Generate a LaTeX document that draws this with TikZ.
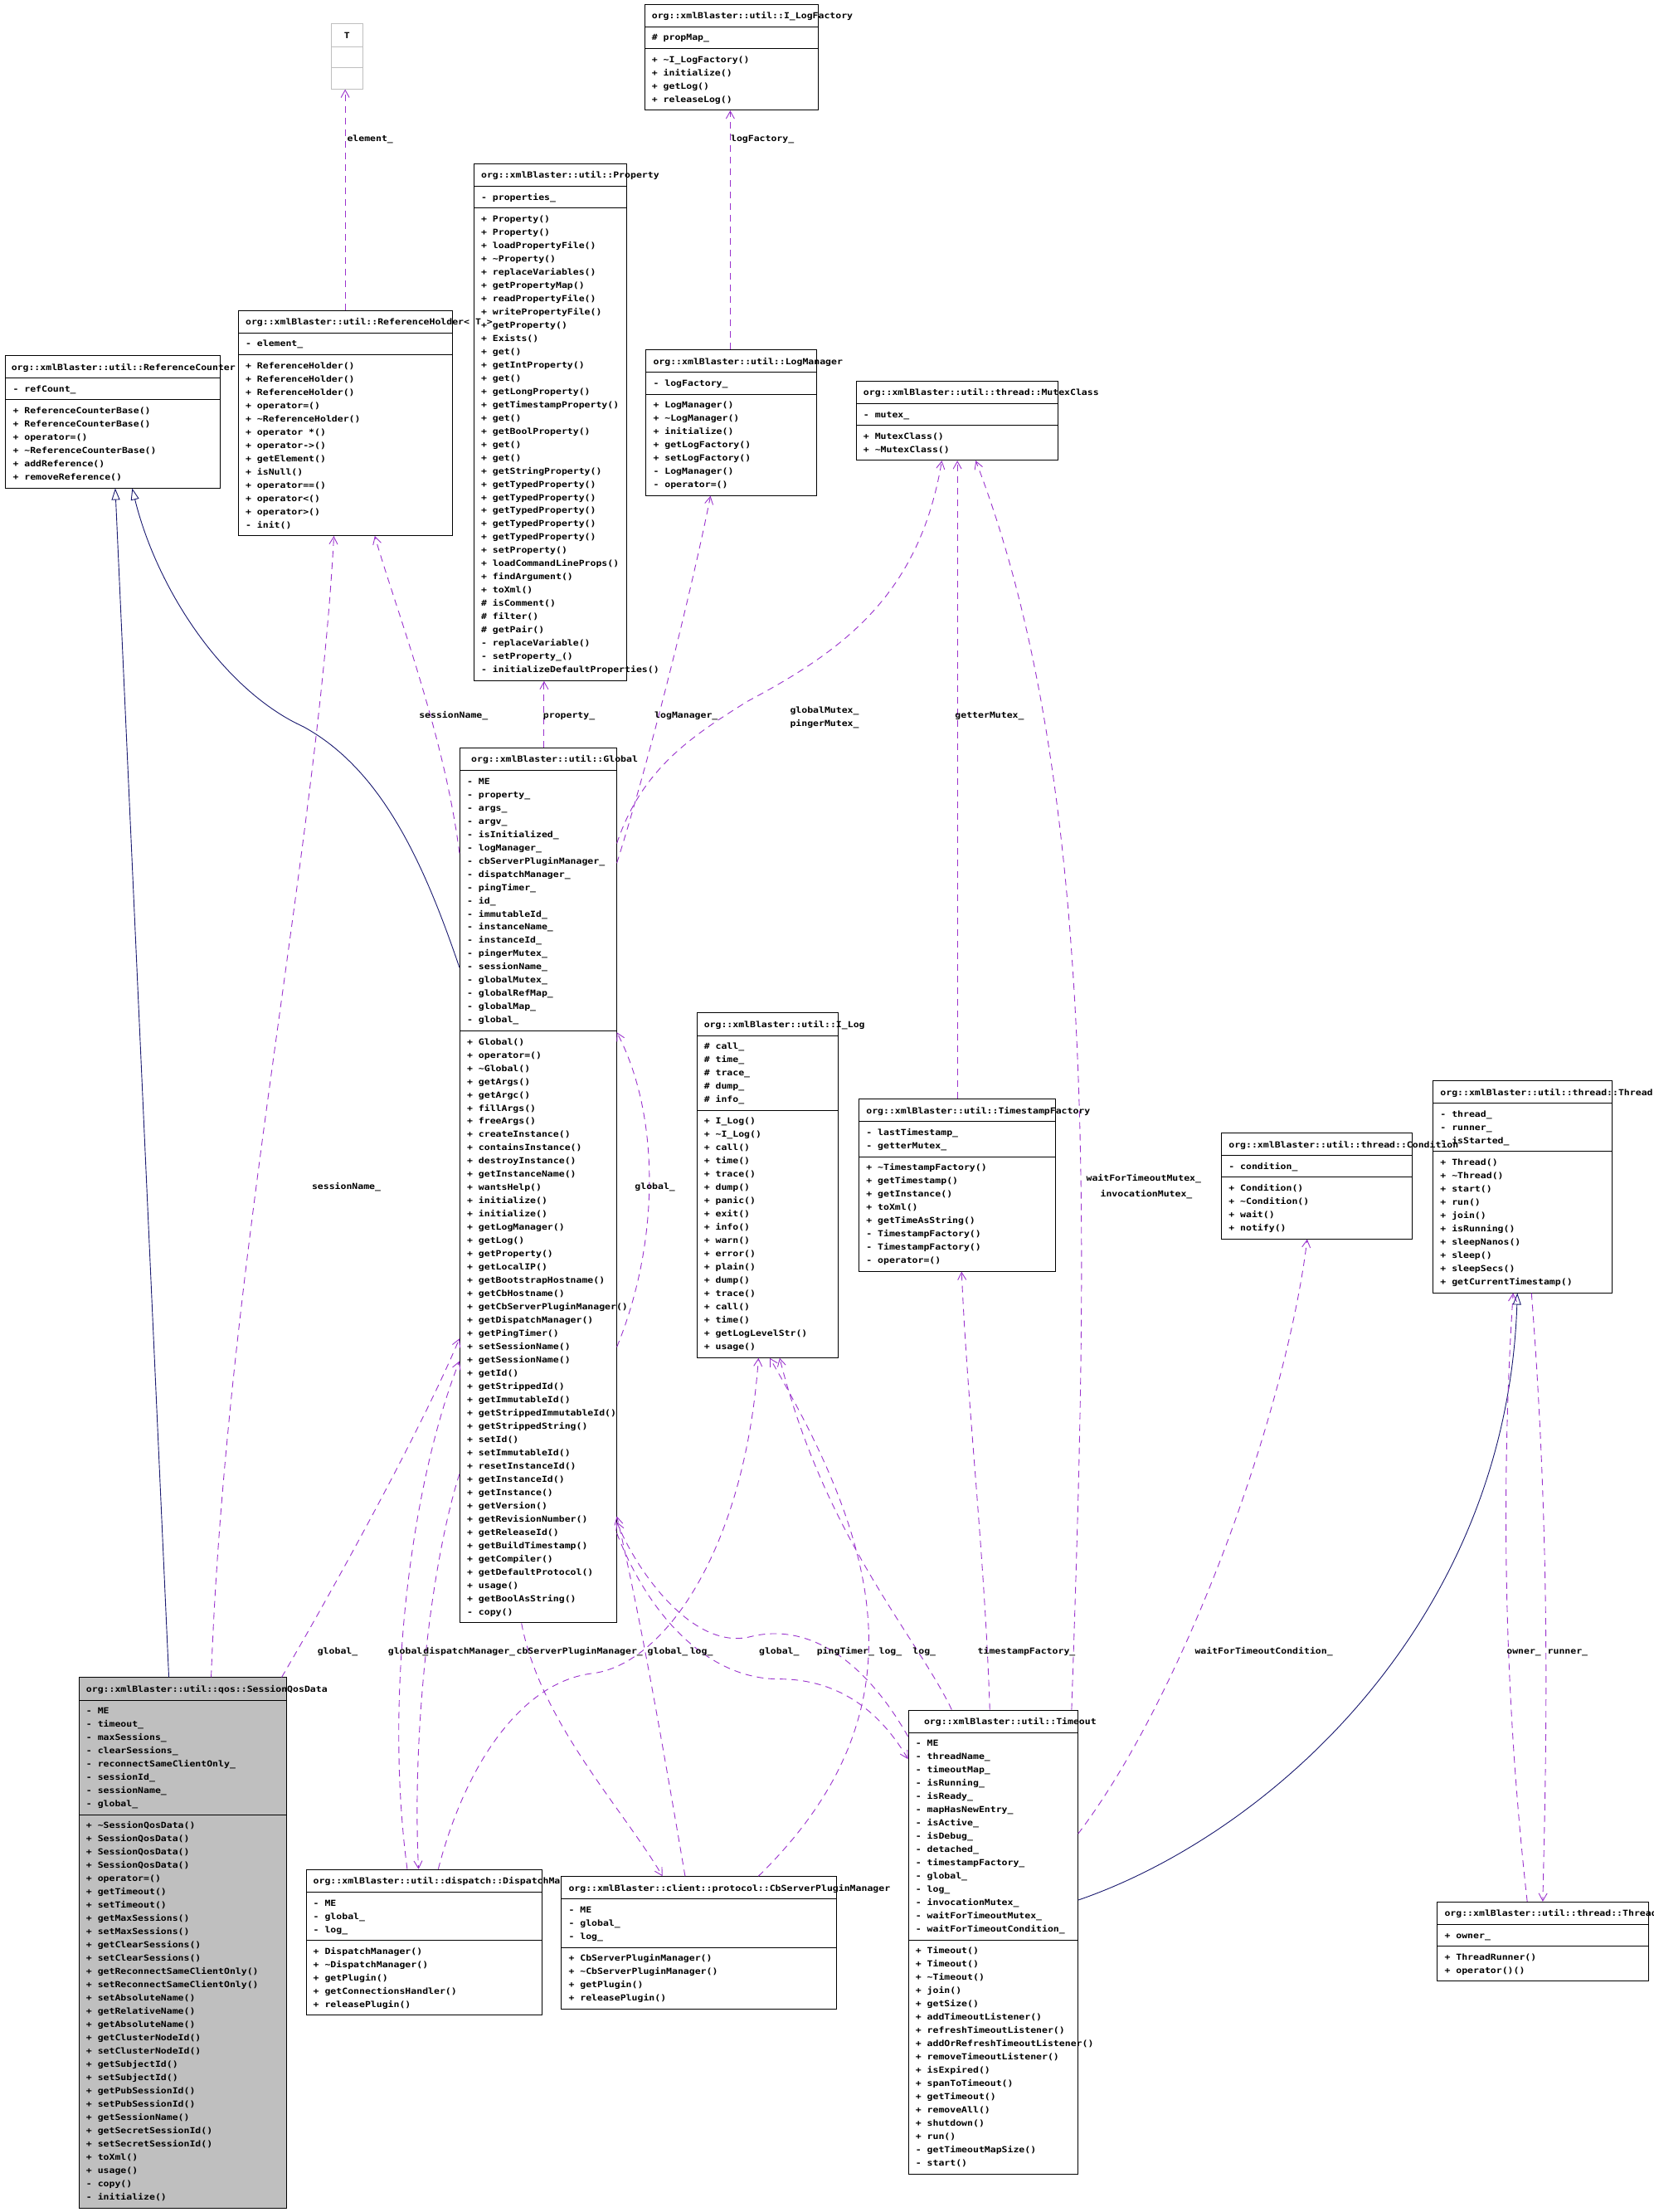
\documentclass[tikz,border=0pt]{standalone}
\usepackage{fontspec}
\usetikzlibrary{arrows.meta,fit,calc}
\newfontfamily\umlfont{DejaVu Sans Mono}[FakeStretch=1.15]
\definecolor{edgepurple}{HTML}{9A32CD}
\definecolor{edgenavy}{HTML}{191970}
\definecolor{boxgray}{HTML}{BFBFBF}
\tikzset{
 umlbox/.style={draw=black, line width=1pt, inner sep=0pt, rectangle},
 umltxt/.style={anchor=base west, inner sep=0pt, font=\fontsize{10}{12}\umlfont\bfseries},
 umllbl/.style={anchor=base west, inner sep=0pt, font=\fontsize{10}{12}\umlfont\bfseries},
 usage/.style={draw=edgepurple, line width=0.9pt, dash pattern=on 8pt off 6pt, -{Straight Barb[length=9pt,width=10pt,line width=0.9pt]}},
 inherit/.style={draw=edgenavy, line width=0.9pt, -{Triangle[length=14pt,width=10pt,fill=white]}},
}
\def\umlhx{5}
\newcommand\umlclass[8]{%
 \pgfmathsetmacro\umlya{#4+16}%
 \xdef\umlnA{0}\foreach \q [count=\k] in {#7} {\xdef\umlnA{\k}}%
 \xdef\umlnM{0}\foreach \q [count=\k] in {#8} {\xdef\umlnM{\k}}%
 \pgfmathsetmacro\umlyb{\umlya+\umlnA*9.4+6}%
 \pgfmathsetmacro\umlyc{\umlyb+\umlnM*9.4+6}%
 \node[umlbox, fill=#2, fit={(#3,#4) (#5,\umlyc)}] (#1) {};
 \draw[line width=1pt] (#3,\umlya) -- (#5,\umlya) (#3,\umlyb) -- (#5,\umlyb);
 \node[umltxt] (#1-h) at ({#3+\umlhx},{#4+10.3}) {#6};
 \foreach \q [count=\k] in {#7} {\node[umltxt] (#1-a\k) at ({#3+5},{\umlya+9.8+(\k-1)*9.4}) {\q};}
 \foreach \q [count=\k] in {#8} {\node[umltxt] (#1-m\k) at ({#3+5},{\umlyb+9.8+(\k-1)*9.4}) {\q};}
}
\begin{document}
\begin{tikzpicture}[x=1.70051pt, y=-1.70051pt]
\useasboundingbox[fill=white] (0,0) rectangle (1172,1567.76);

% ---------- boxes ----------
\umlclass{property}{white}{336}{116}{444}{org::xmlBlaster::util::Property}{- properties\_}{+ Property(), + Property(), + loadPropertyFile(), + \textasciitilde Property(), + replaceVariables(), + getPropertyMap(), + readPropertyFile(), + writePropertyFile(), + getProperty(), + Exists(), + get(), + getIntProperty(), + get(), + getLongProperty(), + getTimestampProperty(), + get(), + getBoolProperty(), + get(), + get(), + getStringProperty(), + getTypedProperty(), + getTypedProperty(), + getTypedProperty(), + getTypedProperty(), + getTypedProperty(), + setProperty(), + loadCommandLineProps(), + findArgument(), + toXml(), \# isComment(), \# filter(), \# getPair(), - replaceVariable(), - setProperty\_(), - initializeDefaultProperties()}

\def\umlhx{4}
\umlclass{rcb}{white}{4}{252}{156}{org::xmlBlaster::util::ReferenceCounter}{- refCount\_}{+ ReferenceCounterBase(), + ReferenceCounterBase(), + operator=(), + \textasciitilde ReferenceCounterBase(), + addReference(), + removeReference()}
\def\umlhx{5}

\umlclass{rh}{white}{169}{220}{321}{org::xmlBlaster::util::ReferenceHolder< T >}{- element\_}{+ ReferenceHolder(), + ReferenceHolder(), + ReferenceHolder(), + operator=(), + \textasciitilde ReferenceHolder(), + operator *(), + operator->(), + getElement(), + isNull(), + operator==(), + operator<(), + operator>(), - init()}

\umlclass{ilf}{white}{457}{3}{580}{org::xmlBlaster::util::I\_LogFactory}{\# propMap\_}{+ \textasciitilde I\_LogFactory(), + initialize(), + getLog(), + releaseLog()}

% T template parameter box
\node[draw=boxgray, line width=1pt, fill=white, inner sep=0pt, fit={(235,17) (257,63)}] (tbox) {};
\draw[draw=boxgray, line width=1pt] (235,33) -- (257,33) (235,48) -- (257,48);
\node[umltxt, anchor=base] (tbox-h) at (246,27.3) {T};

\umlclass{logm}{white}{458}{248}{579}{org::xmlBlaster::util::LogManager}{- logFactory\_}{+ LogManager(), + \textasciitilde LogManager(), + initialize(), + getLogFactory(), + setLogFactory(), - LogManager(), - operator=()}

\umlclass{mutex}{white}{607}{270}{750}{org::xmlBlaster::util::thread::MutexClass}{- mutex\_}{+ MutexClass(), + \textasciitilde MutexClass()}

\def\umlhx{8}
\umlclass{global}{white}{326}{530}{437}{org::xmlBlaster::util::Global}{- ME, - property\_, - args\_, - argv\_, - isInitialized\_, - logManager\_, - cbServerPluginManager\_, - dispatchManager\_, - pingTimer\_, - id\_, - immutableId\_, - instanceName\_, - instanceId\_, - pingerMutex\_, - sessionName\_, - globalMutex\_, - globalRefMap\_, - globalMap\_, - global\_}{+ Global(), + operator=(), + \textasciitilde Global(), + getArgs(), + getArgc(), + fillArgs(), + freeArgs(), + createInstance(), + containsInstance(), + destroyInstance(), + getInstanceName(), + wantsHelp(), + initialize(), + initialize(), + getLogManager(), + getLog(), + getProperty(), + getLocalIP(), + getBootstrapHostname(), + getCbHostname(), + getCbServerPluginManager(), + getDispatchManager(), + getPingTimer(), + setSessionName(), + getSessionName(), + getId(), + getStrippedId(), + getImmutableId(), + getStrippedImmutableId(), + getStrippedString(), + setId(), + setImmutableId(), + resetInstanceId(), + getInstanceId(), + getInstance(), + getVersion(), + getRevisionNumber(), + getReleaseId(), + getBuildTimestamp(), + getCompiler(), + getDefaultProtocol(), + usage(), + getBoolAsString(), - copy()}
\def\umlhx{5}

\umlclass{ilog}{white}{494}{718}{594}{org::xmlBlaster::util::I\_Log}{\# call\_, \# time\_, \# trace\_, \# dump\_, \# info\_}{+ I\_Log(), + \textasciitilde I\_Log(), + call(), + time(), + trace(), + dump(), + panic(), + exit(), + info(), + warn(), + error(), + plain(), + dump(), + trace(), + call(), + time(), + getLogLevelStr(), + usage()}

\umlclass{tsf}{white}{609}{779}{748}{org::xmlBlaster::util::TimestampFactory}{- lastTimestamp\_, - getterMutex\_}{+ \textasciitilde TimestampFactory(), + getTimestamp(), + getInstance(), + toXml(), + getTimeAsString(), - TimestampFactory(), - TimestampFactory(), - operator=()}

\umlclass{thread}{white}{1016}{766}{1143}{org::xmlBlaster::util::thread::Thread}{- thread\_, - runner\_, - isStarted\_}{+ Thread(), + \textasciitilde Thread(), + start(), + run(), + join(), + isRunning(), + sleepNanos(), + sleep(), + sleepSecs(), + getCurrentTimestamp()}

\umlclass{cond}{white}{866}{803}{1001}{org::xmlBlaster::util::thread::Condition}{- condition\_}{+ Condition(), + \textasciitilde Condition(), + wait(), + notify()}

\umlclass{sqd}{boxgray}{56}{1189}{203}{org::xmlBlaster::util::qos::SessionQosData}{- ME, - timeout\_, - maxSessions\_, - clearSessions\_, - reconnectSameClientOnly\_, - sessionId\_, - sessionName\_, - global\_}{+ \textasciitilde SessionQosData(), + SessionQosData(), + SessionQosData(), + SessionQosData(), + operator=(), + getTimeout(), + setTimeout(), + getMaxSessions(), + setMaxSessions(), + getClearSessions(), + setClearSessions(), + getReconnectSameClientOnly(), + setReconnectSameClientOnly(), + setAbsoluteName(), + getRelativeName(), + getAbsoluteName(), + getClusterNodeId(), + setClusterNodeId(), + getSubjectId(), + setSubjectId(), + getPubSessionId(), + setPubSessionId(), + getSessionName(), + getSecretSessionId(), + setSecretSessionId(), + toXml(), + usage(), - copy(), - initialize()}

\umlclass{disp}{white}{217}{1325}{384}{org::xmlBlaster::util::dispatch::DispatchManager}{- ME, - global\_, - log\_}{+ DispatchManager(), + \textasciitilde DispatchManager(), + getPlugin(), + getConnectionsHandler(), + releasePlugin()}

\umlclass{cbspm}{white}{398}{1330}{593}{org::xmlBlaster::client::protocol::CbServerPluginManager}{- ME, - global\_, - log\_}{+ CbServerPluginManager(), + \textasciitilde CbServerPluginManager(), + getPlugin(), + releasePlugin()}

\def\umlhx{11}
\umlclass{timeout}{white}{644}{1212}{764}{org::xmlBlaster::util::Timeout}{- ME, - threadName\_, - timeoutMap\_, - isRunning\_, - isReady\_, - mapHasNewEntry\_, - isActive\_, - isDebug\_, - detached\_, - timestampFactory\_, - global\_, - log\_, - invocationMutex\_, - waitForTimeoutMutex\_, - waitForTimeoutCondition\_}{+ Timeout(), + Timeout(), + \textasciitilde Timeout(), + join(), + getSize(), + addTimeoutListener(), + refreshTimeoutListener(), + addOrRefreshTimeoutListener(), + removeTimeoutListener(), + isExpired(), + spanToTimeout(), + getTimeout(), + removeAll(), + shutdown(), + run(), - getTimeoutMapSize(), - start()}
\def\umlhx{5}

\umlclass{trun}{white}{1019}{1348}{1169}{org::xmlBlaster::util::thread::ThreadRunner}{+ owner\_}{+ ThreadRunner(), + operator()()}

% ---------- inheritance ----------
\draw[inherit] ($(sqd.north west)+(64,0)$) -- ($(rcb.south west)+(78,0)$);
\draw[inherit] ($(global.north west)+(0,156)$) .. controls (300,610) and (270,545) .. (215,515) .. controls (160,490) and (112,420) .. ($(rcb.south west)+(90,0)$);
\draw[inherit] ($(timeout.north east)+(0,135)$) .. controls (900,1300) and (1068,1150) .. ($(thread.south west)+(60,0)$);

% ---------- usage ----------
\draw[usage] ($(rh.north west)+(76,0)$) -- ($(tbox.south west)+(10,0)$);
\draw[usage] ($(logm.north west)+(60,0)$) -- ($(ilf.south west)+(61,0)$);
\draw[usage] ($(global.north west)+(60,0)$) -- ($(property.south west)+(50,0)$);
\draw[usage] ($(global.north west)+(0,75)$) .. controls (315,520) and (280,430) .. ($(rh.south west)+(97,0)$);
\draw[usage] ($(sqd.north west)+(94,0)$) .. controls (160,900) and (225,600) .. ($(rh.south west)+(68,0)$);
\draw[usage] ($(global.north east)+(0,82)$) .. controls (460,540) and (490,420) .. ($(logm.south west)+(46,0)$);
\draw[usage] ($(global.north east)+(0,68)$) .. controls (455,545) and (490,522) .. (530,497) .. controls (600,460) and (652,420) .. ($(mutex.south west)+(61,0)$);
\draw[usage] ($(tsf.north west)+(70,0)$) -- ($(mutex.south west)+(72,0)$);
\draw[usage] ($(timeout.north west)+(116,0)$) .. controls (770,900) and (782,560) .. ($(mutex.south west)+(85,0)$);
\draw[usage] ($(timeout.north west)+(58,0)$) .. controls (698,1100) and (686,1000) .. ($(tsf.south west)+(73,0)$);
\draw[usage] ($(timeout.north east)+(0,88)$) .. controls (840,1200) and (912,1000) .. ($(cond.south west)+(61,0)$);
\draw[usage] ($(thread.south west)+(70,0)$) .. controls (1100,1100) and (1096,1250) .. ($(trun.north west)+(75,0)$);
\draw[usage] ($(trun.north west)+(64,0)$) .. controls (1066,1200) and (1064,1050) .. ($(thread.south west)+(57,0)$);
\draw[usage] ($(sqd.north west)+(144,0)$) .. controls (240,1120) and (300,1010) .. ($(global.north west)+(0,419)$);
\draw[usage] ($(disp.north west)+(72,0)$) .. controls (272,1200) and (292,1050) .. ($(global.north west)+(0,435)$);
\draw[usage] ($(global.north west)+(0,515)$) .. controls (305,1110) and (292,1230) .. ($(disp.north west)+(80,0)$);
\draw[usage] ($(disp.north west)+(94,0)$) .. controls (330,1250) and (370,1192) .. (420,1186) .. controls (470,1180) and (528,1100) .. ($(ilog.south west)+(44,0)$);
\draw[usage] ($(global.south west)+(44,0)$) .. controls (383,1220) and (440,1280) .. ($(cbspm.north west)+(72,0)$);
\draw[usage] ($(cbspm.north west)+(88,0)$) .. controls (472,1250) and (455,1150) .. ($(global.north east)+(0,545)$);
\draw[usage] ($(timeout.north west)+(0,19)$) .. controls (612,1175) and (572,1150) .. (532,1160) .. controls (492,1170) and (452,1115) .. ($(global.north east)+(0,549)$);
\draw[usage] ($(global.north east)+(0,557)$) .. controls (462,1150) and (505,1190) .. (552,1190) .. controls (592,1190) and (622,1210) .. ($(timeout.north west)+(0,35)$);
\draw[usage] ($(cbspm.north west)+(140,0)$) .. controls (660,1210) and (620,1090) .. ($(ilog.south west)+(52,0)$);
\draw[usage] ($(timeout.north west)+(31,0)$) .. controls (650,1160) and (585,1090) .. ($(ilog.south west)+(59,0)$);
\draw[usage] ($(global.north east)+(0,425)$) .. controls (468,880) and (468,790) .. ($(global.north east)+(0,202)$);

% ---------- edge labels ----------
\node[umllbl] (l-element) at (246,100.2) {element\_};
\node[umllbl] (l-logfactory) at (518,100.2) {logFactory\_};
\node[umllbl] (l-property) at (385,509.2) {property\_};
\node[umllbl] (l-sessname1) at (297,509.2) {sessionName\_};
\node[umllbl] (l-logmanager) at (464,509.2) {logManager\_};
\node[umllbl] (l-globalmutex) at (560,505.2) {globalMutex\_};
\node[umllbl] (l-pingermutex) at (560,514.6) {pingerMutex\_};
\node[umllbl] (l-gettermutex) at (677,509.2) {getterMutex\_};
\node[umllbl] (l-sessname2) at (221,843.2) {sessionName\_};
\node[umllbl] (l-globalself) at (450,843.2) {global\_};
\node[umllbl] (l-waitmutex) at (770,837.2) {waitForTimeoutMutex\_};
\node[umllbl] (l-invmutex) at (780,848.2) {invocationMutex\_};
\node[umllbl] (l-g1) at (225,1172.2) {global\_};
\node[umllbl] (l-g2) at (275,1172.2) {global\_};
\node[umllbl] (l-dm) at (300,1172.2) {dispatchManager\_};
\node[umllbl] (l-cbspm) at (366,1172.2) {cbServerPluginManager\_};
\node[umllbl] (l-g3) at (459,1172.2) {global\_};
\node[umllbl] (l-log1) at (489,1172.2) {log\_};
\node[umllbl] (l-g4) at (538,1172.2) {global\_};
\node[umllbl] (l-ping) at (579,1172.2) {pingTimer\_};
\node[umllbl] (l-log2) at (623,1172.2) {log\_};
\node[umllbl] (l-log3) at (647,1172.2) {log\_};
\node[umllbl] (l-tsf) at (693,1172.2) {timestampFactory\_};
\node[umllbl] (l-cond) at (847,1172.2) {waitForTimeoutCondition\_};
\node[umllbl] (l-owner) at (1068,1172.2) {owner\_};
\node[umllbl] (l-runner) at (1097,1172.2) {runner\_};
\end{tikzpicture}
\end{document}
